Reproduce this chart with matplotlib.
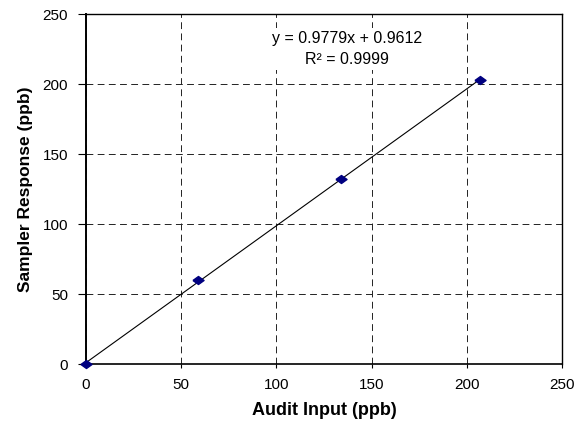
import matplotlib
matplotlib.use("Agg")
import matplotlib.pyplot as plt
import numpy as np

plt.rcParams['font.family'] = ['Liberation Sans', 'DejaVu Sans']

# audit points
audit_input = [0, 59, 134, 207]
sampler_response = [0, 60, 132, 203]
slope = 0.9779
intercept = 0.9612
ticks = [0, 50, 100, 150, 200, 250]

fig = plt.figure(figsize=(5.85, 4.34), dpi=100)
ax = fig.add_axes([86 / 585, 70 / 434, 476 / 585, 350 / 434])

# trendline over the data range
xs = np.array([min(audit_input), max(audit_input)])
ax.plot(xs, slope * xs + intercept, color="black", lw=0.8, zorder=2)

# wide diamond like the excel marker
diamond = [(-1, 0), (0, 0.72), (1, 0), (0, -0.72), (-1, 0)]
ax.plot(audit_input, sampler_response, linestyle="none", marker=diamond,
        markersize=8, color="#000080", zorder=3, clip_on=False)

ax.set_xlim(0, 250)
ax.set_ylim(0, 250)
ax.set_xticks(ticks)
ax.set_yticks(ticks)
ax.grid(True, color="#222222", linestyle=(0, (7, 4.5)), lw=0.7)
ax.set_axisbelow(True)
ax.tick_params(labelsize=11, width=0.8, direction="out")
ax.tick_params(axis="y", length=6, pad=7)
ax.tick_params(axis="x", length=3, pad=7)
for s in ax.spines.values():
    s.set_linewidth(1.0)
ax.spines["left"].set_linewidth(1.4)
ax.spines["bottom"].set_linewidth(1.2)

ax.set_xlabel("Audit Input (ppb)", fontsize=13, fontweight="bold", labelpad=7)
ax.set_ylabel("Sampler Response (ppb)", fontsize=12.5, fontweight="bold", labelpad=7)

ax.text(137, 225, "y = 0.9779x + 0.9612\nR\u00b2 = 0.9999", ha="center", va="center",
        fontsize=11.5, linespacing=1.5,
        bbox=dict(facecolor="white", edgecolor="none", pad=2), zorder=4)

fig.savefig("out.png", dpi=100)
